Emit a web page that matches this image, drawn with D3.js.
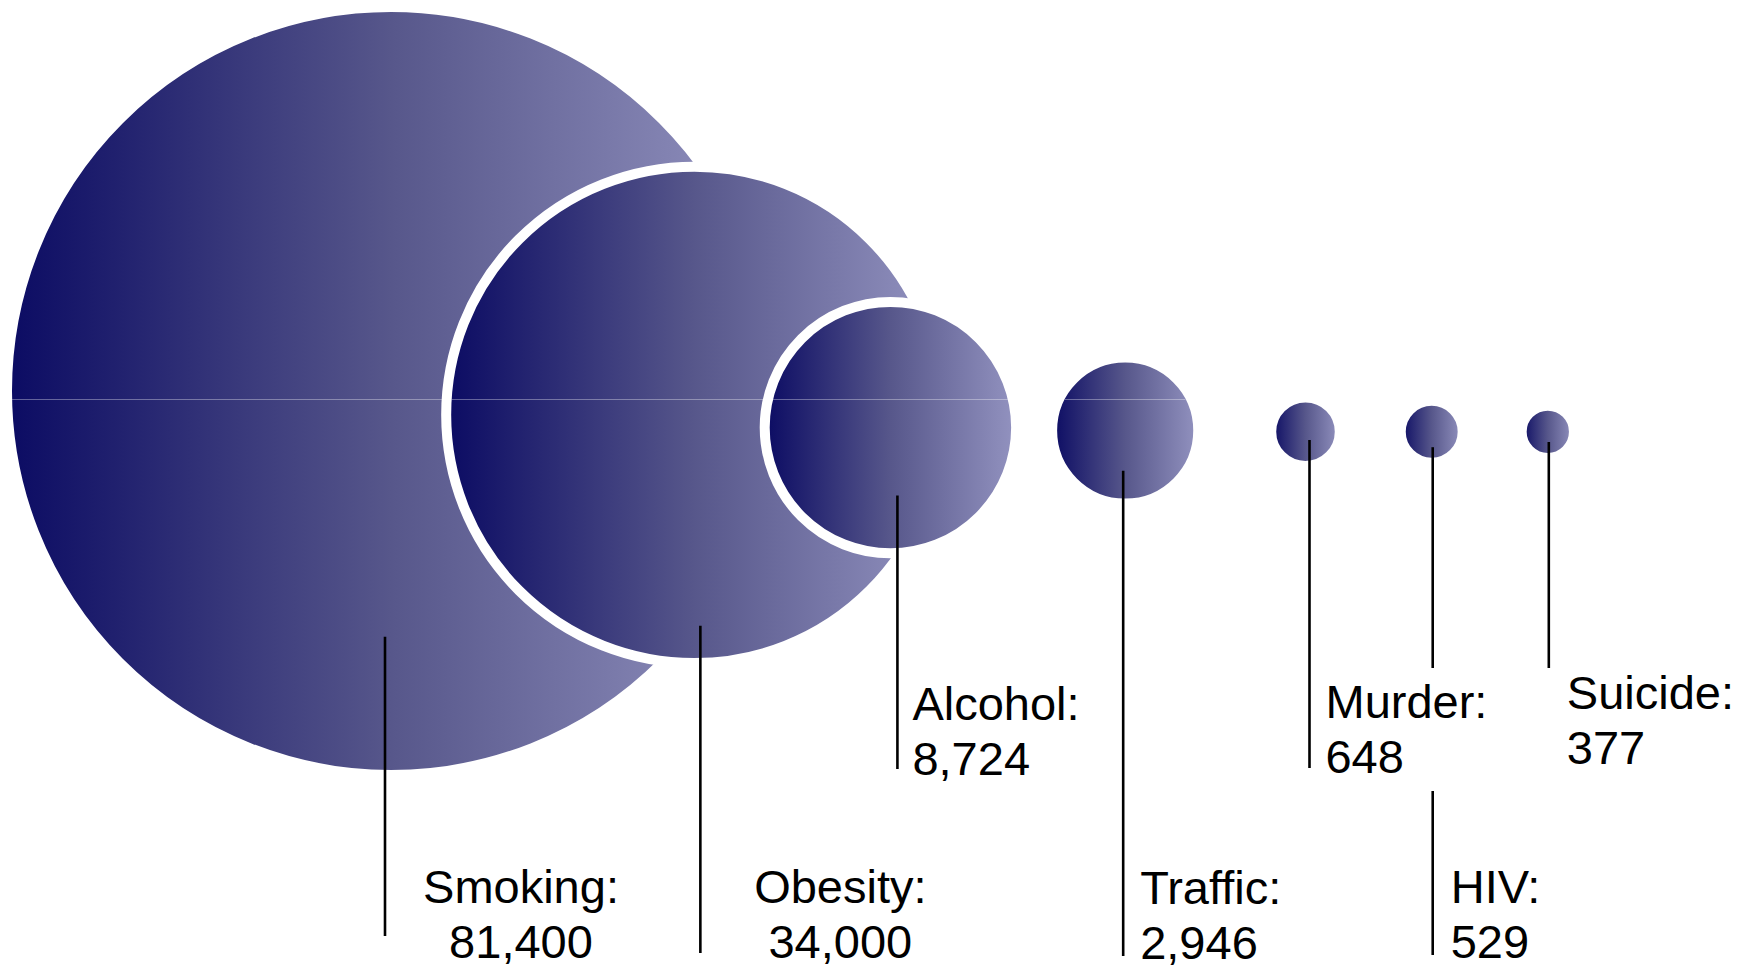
<!DOCTYPE html>
<html>
<head>
<meta charset="utf-8">
<script src="https://cdn.jsdelivr.net/npm/d3@7"></script>
<style>
  html, body { margin: 0; padding: 0; background: #fff; }
  svg { display: block; }
  text { font-family: "Liberation Sans", Arial, sans-serif; fill: #000; }
</style>
</head>
<body>
<svg id="chart"></svg>
<script>
const causes = ["Smoking", "Obesity", "Alcohol", "Traffic", "Murder", "HIV", "Suicide"];
const deaths = [81400, 34000, 8724, 2946, 648, 529, 377];

const width = 1737;
const height = 969;

// how each bubble and its label sit (layout only, no data)
const layout = {
  Smoking: { anchor: "middle", dx: 130, row: "low", lineDx: -6, from: 0.64, to: 33 },
  Obesity: { nest: true, anchor: "middle", dx: 146, row: "low", lineDx: 6, from: 0.85, to: 50 },
  Alcohol: { nest: true, anchor: "start", dx: 22, row: "high", dy: 4, lineDx: 7, from: 0.54, to: 49 },
  Traffic: { gap: 36, anchor: "start", dx: 15, row: "low", dy: 1, lineDx: -2, from: 0.55, to: 52 },
  Murder: { gap: 73, anchor: "start", dx: 20, row: "high", dy: 2, lineDx: 4, from: 0.24, to: 50 },
  HIV: { gap: 61, anchor: "start", dx: 19, row: "low", lineDx: 1, from: 0.5, to: 52, breakFrom: -48, breakTo: 75 },
  Suicide: { gap: 59, anchor: "start", dx: 19, row: "high", dy: -7, lineDx: 1, from: 0.39, to: -41 },
};
const rows = { high: 716, low: 903 };
const lineGap = 55;
const strokeW = 10;
const overlap = 0.79;
const seamY = 399;

const svg = d3.select("#chart").attr("width", width).attr("height", height);

const defs = svg.append("defs");
const grad = defs.append("linearGradient")
  .attr("id", "bubbleGradient")
  .attr("x1", 0).attr("y1", 0)
  .attr("x2", 1).attr("y2", 0);
grad.append("stop").attr("offset", "0%").attr("stop-color", "#0b0b63");
grad.append("stop").attr("offset", "50%").attr("stop-color", "#57578b");
grad.append("stop").attr("offset", "100%").attr("stop-color", "#9393c0");

// area of a bubble ~ deaths
const rScale = d3.scaleSqrt().domain([0, d3.max(deaths)]).range([0, 384]);
// big bubbles ride a little higher
const yScale = d3.scaleLinear().domain([0, d3.max(deaths)]).range([432, 391]);
const fmt = d3.format(",");

const bubbles = [];
causes.forEach((c, i) => {
  const r = rScale(deaths[i]);
  const L = layout[c];
  let cx;
  if (i === 0) cx = strokeW / 2 + 2 + r;
  else {
    const prev = bubbles[i - 1];
    cx = L.nest ? prev.cx + overlap * prev.r : prev.cx + prev.r + r + L.gap;
  }
  bubbles.push({ cause: c, value: deaths[i], r, cx, cy: yScale(deaths[i]), L });
});

const gBubbles = svg.append("g");
bubbles.forEach((b) => {
  gBubbles.append("circle")
    .attr("cx", b.cx)
    .attr("cy", b.cy)
    .attr("r", b.r)
    .attr("fill", "url(#bubbleGradient)")
    .attr("stroke", "#fff")
    .attr("stroke-width", strokeW);

  // faint render seam that runs through the bubbles
  const rf = b.r - strokeW / 2;
  const d = seamY - b.cy;
  if (Math.abs(d) < rf) {
    const half = Math.sqrt(rf * rf - d * d);
    gBubbles.append("line")
      .attr("x1", b.cx - half)
      .attr("x2", b.cx + half)
      .attr("y1", seamY + 0.5)
      .attr("y2", seamY + 0.5)
      .attr("stroke", "#fff")
      .attr("stroke-opacity", 0.35)
      .attr("stroke-width", 1);
  }
});

// leader lines
const gLines = svg.append("g").attr("stroke", "#000").attr("stroke-width", 2.6);
bubbles.forEach((b) => {
  const L = b.L;
  const x = b.cx + L.lineDx;
  const base = rows[L.row] + (L.dy || 0);
  const y1 = b.cy + L.from * b.r;
  const y2 = base + L.to;
  if (L.breakFrom !== undefined) {
    gLines.append("line").attr("x1", x).attr("x2", x)
      .attr("y1", y1).attr("y2", rows.high + L.breakFrom);
    gLines.append("line").attr("x1", x).attr("x2", x)
      .attr("y1", rows.high + L.breakTo).attr("y2", y2);
  } else {
    gLines.append("line").attr("x1", x).attr("x2", x)
      .attr("y1", y1).attr("y2", y2);
  }
});

// labels
const gLabels = svg.append("g").style("font-size", "47px");
bubbles.forEach((b) => {
  const L = b.L;
  const x = b.cx + L.dx;
  const base = rows[L.row] + (L.dy || 0);
  const t = gLabels.append("text")
    .attr("text-anchor", L.anchor)
    .attr("x", x)
    .attr("y", base);
  t.append("tspan").attr("x", x).attr("y", base).text(b.cause + ":");
  t.append("tspan").attr("x", x).attr("y", base + lineGap).text(fmt(b.value));
});
</script>
</body>
</html>
